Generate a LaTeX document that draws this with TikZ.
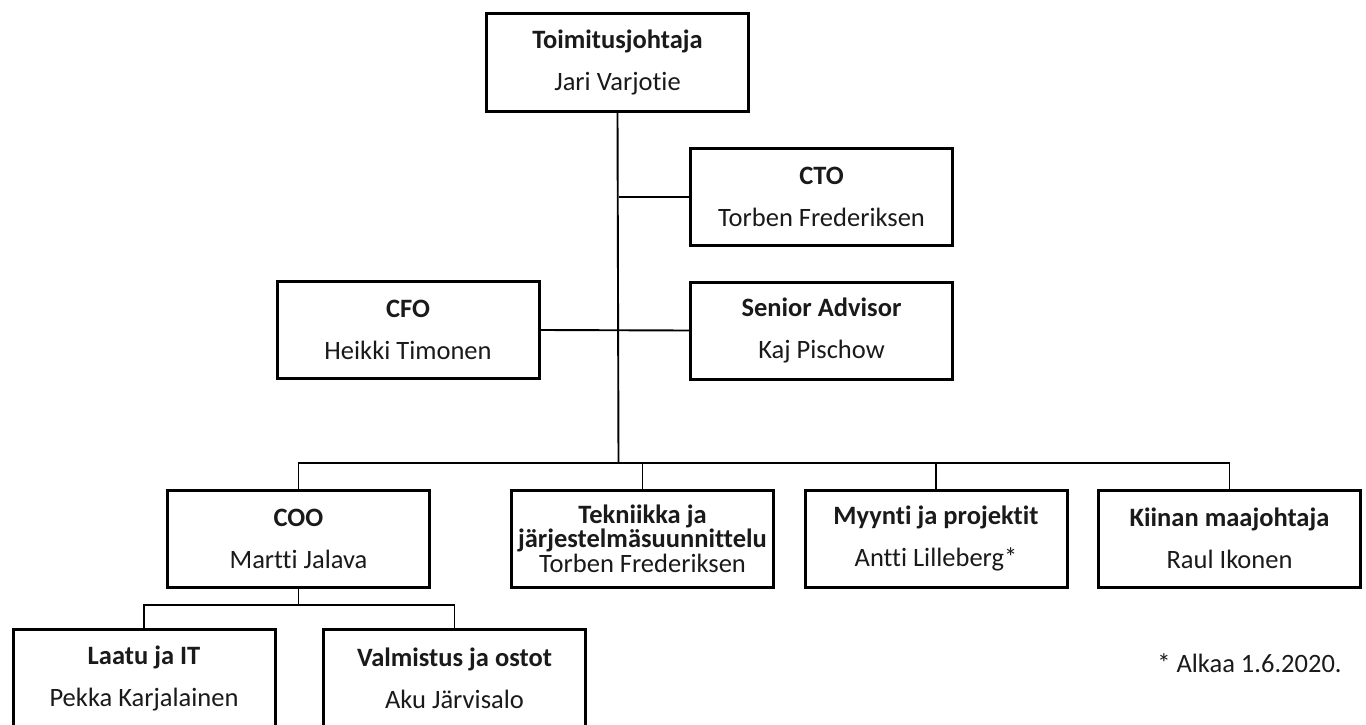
\documentclass[tikz,border=0pt]{standalone}
\usepackage{fontspec}
\setmainfont[Ligatures=NoCommon]{Carlito}
\definecolor{txt}{HTML}{1A1A1A}
\begin{document}
\begin{tikzpicture}[x=1pt,y=-1pt,
  box/.style={draw=black, line width=3pt, minimum width=262pt, minimum height=97pt,
    inner sep=0pt, align=center, text=txt, font=\fontsize{26.5}{24.5}\selectfont},
  conn/.style={draw=black, line width=1.9pt},
  note/.style={text=txt, font=\fontsize{26.5}{24.5}\selectfont, inner sep=0pt}]
\clip (0,0) rectangle (1366,725);
\fill[white] (0,0) rectangle (1366,725);

\node[box] (ceo) at (617.5,62.5) {\textbf{Toimitusjohtaja}\\[17.5pt]Jari Varjotie};
\node[box] (cto) at (821.5,197) {\textbf{CTO}\\[17.5pt]Torben Frederiksen};
\node[box] (sa)  at (821.5,330.5) {\textbf{Senior Advisor}\\[17.5pt]Kaj Pischow};
\node[box] (cfo) at (408,330) {\textbf{CFO}\\[17.5pt]Heikki Timonen};
\node[box] (coo) at (298.5,538.5) {\textbf{COO}\\[17.5pt]Martti Jalava};
\node[box] (tek) at (642.5,538.5) {\textbf{Tekniikka ja}\\\textbf{järjestelmäsuunnittelu}\\Torben Frederiksen};
\node[box] (myy) at (936,538.5) {\textbf{Myynti ja projektit}\\[17.5pt]Antti Lilleberg*};
\node[box] (kii) at (1229.5,538.5) {\textbf{Kiinan maajohtaja}\\[17.5pt]Raul Ikonen};
\node[box] (laa) at (144,678) {\textbf{Laatu ja IT}\\[17.5pt]Pekka Karjalainen};
\node[box] (val) at (454.5,678) {\textbf{Valmistus ja ostot}\\[17.5pt]Aku Järvisalo};

\node[note, anchor=base] (fn) at (1249.5,672) {* Alkaa 1.6.2020.};

\coordinate (bus) at (618.5,463);
\coordinate (sub) at (298.5,605);

\draw[conn] (ceo.south) -- (bus);
\draw[conn] (cto.west) -- (cto.west -| bus);
\draw[conn] (cfo.east) -- (sa.west);
\draw[conn] (coo.north) |- (bus) -| (kii.north);
\draw[conn] (tek.north) -- (tek.north |- bus);
\draw[conn] (myy.north) -- (myy.north |- bus);
\draw[conn] (coo.south) -- (sub);
\draw[conn] (laa.north) |- (sub) -| (val.north);
\end{tikzpicture}
\end{document}
